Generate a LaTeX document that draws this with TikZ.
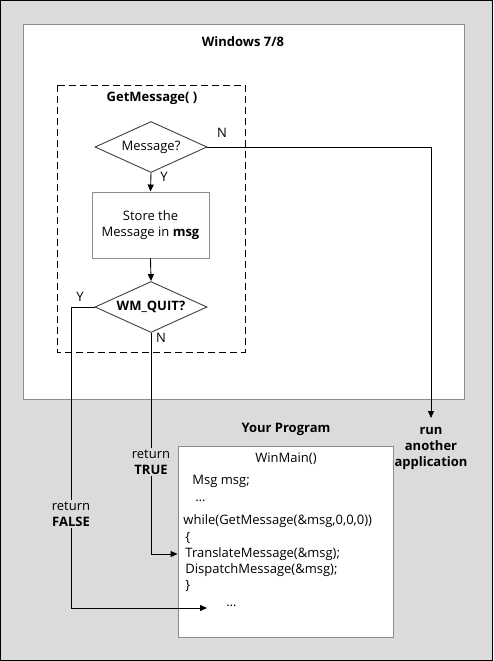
\documentclass[tikz,border=0pt]{standalone}
\usepackage{fontspec}
\setmainfont{Open Sans}
\usetikzlibrary{shapes,arrows.meta}

\definecolor{panel}{gray}{0.86}
\definecolor{edge}{gray}{0.55}

\begin{document}
\begin{tikzpicture}[x=1pt, y=-1pt, line width=0.9pt,
    >={Triangle[length=7pt,width=6pt]},
    every node/.append style={font=\fontsize{13}{16}\selectfont, inner sep=1pt}]
  \tikzstyle{frame} = [draw=edge, fill=white]
  \tikzstyle{decision} = [diamond, draw=black!75, fill=white, aspect=2.2,
    inner sep=0pt, minimum width=112pt, minimum height=51pt]
  \tikzstyle{title} = [font=\bfseries\fontsize{13}{16}\selectfont]
  \tikzstyle{code} = [anchor=west]
  \tikzstyle{ret} = [fill=panel, align=center, inner sep=2pt]

  \useasboundingbox (0,0) rectangle (493,661);
  \draw[fill=panel, line width=1pt] (0.5,0.5) rectangle (492.5,660.5);

  % the system side
  \draw[frame] (23,24) rectangle (464,399);
  \node (win) [title] at (243,42) {Windows 7/8};
  \draw[dash pattern=on 7pt off 4pt] (57,85) rectangle (245,352);
  \node (get) [title] at (152,98) {GetMessage( )};

  \node (msg) [decision] at (151,147) {Message?};
  \node (store) [frame, minimum width=117pt, minimum height=66pt, align=center]
    at (150.5,225) {Store the\\Message in \textbf{msg}};
  \node (quit) [decision] at (151,307) {\textbf{WM\_QUIT?}};

  \node (run) [title, align=center] at (431,448) {run\\another\\application};
  \coordinate (runtop) at (431,418);

  % the program side
  \node (prog) [frame, minimum width=215pt, minimum height=191pt] at (285.5,541.5) {};
  \node (your) [title] at (286,429) {Your Program};
  \node (wmain) at (286,459) {WinMain()};
  \node (decl) [code] at (191,481) {Msg msg;};
  \node (dots1) [code] at (194,501) {\dots};
  \node (loop) [code] at (182,521) {while(GetMessage(\&msg,0,0,0))};
  \node (open) [code] at (184,538) {\{};
  \node (trans) [code] at (184,554) {TranslateMessage(\&msg);};
  \node (disp) [code] at (184,570) {DispatchMessage(\&msg);};
  \node (close) [code] at (184,586) {\}};
  \node (dots2) [code] at (225,606) {\dots};

  % connectors
  \coordinate (fcorner) at (71,608);
  \coordinate (fend) at (207,608);
  \draw[->] (msg.south) -- (store.north);
  \draw[->] (store.south) -- (quit.north);
  \draw[->] (msg.east) -| (runtop);
  \draw[->] (quit.west) -| (fcorner) -- (fend);
  \draw[->] (quit.south) |- (trans.west -| prog.west);

  \node (ntop) at (222,133) {N};
  \node (ytop) at (164,177) {Y};
  \node (yquit) at (80,297) {Y};
  \node (nquit) at (161,338) {N};
  \node (rtrue) [ret] at (151,462) {return\\\textbf{TRUE}};
  \node (rfalse) [ret] at (71,514) {return\\\textbf{FALSE}};
\end{tikzpicture}
\end{document}
